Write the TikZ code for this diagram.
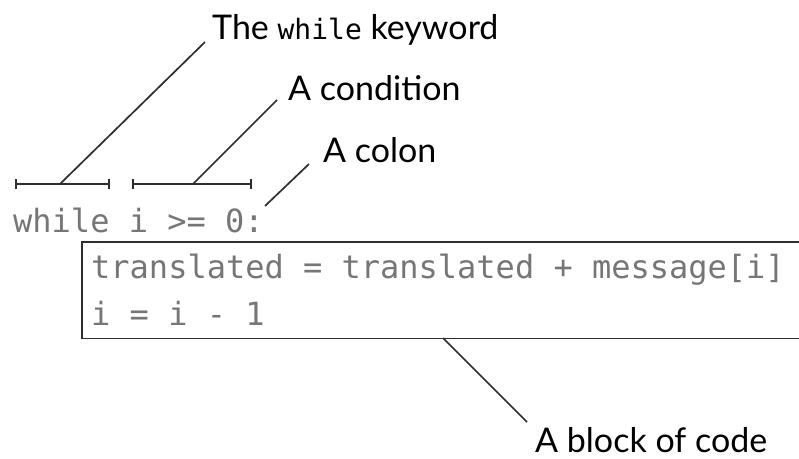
\documentclass[tikz,border=0pt]{standalone}
\usepackage{fontspec}
\setmainfont{Lato}
\setmonofont{DejaVu Sans Mono}
\begin{document}
\begin{tikzpicture}[x=1pt,y=-1pt,
  codetxt/.style={inner sep=0pt,anchor=base west,text=codegray,font=\ttfamily\fontsize{32}{32}\selectfont},
  lbl/.style={inner sep=0pt,anchor=base west,text=black,font=\fontsize{34}{34}\selectfont},
  leader/.style={draw=linegray,line width=1.7pt},
  boxline/.style={draw=linegray,line width=1.6pt},
  brack/.style={draw=linegray,line width=1.6pt,|-|}]
\definecolor{codegray}{HTML}{767676}
\definecolor{linegray}{HTML}{2E2E2E}
\useasboundingbox (0,0) rectangle (799,458);
% code
\node[codetxt] (wh) at (13,232) {while i >= 0:};
\node[minimum width=740pt,minimum height=96pt,anchor=north west,inner sep=0pt] (box) at (82,242) {};
\draw[boxline] (box.north east) -- (box.north west) -- (box.south west) -- (box.south east);
\node[codetxt] (c1) at (91,278) {translated = translated + message[i]};
\node[codetxt] (c2) at (91,325) {i = i - 1};
% brackets
\coordinate (b1l) at (15,184);
\coordinate (b1r) at (110,184);
\coordinate (b2l) at (132,184);
\coordinate (b2r) at (252,184);
\draw[brack] (b1l) -- (b1r);
\draw[brack] (b2l) -- (b2r);
% labels
\node[lbl] (kw) at (212,39) {The {\ttfamily\fontsize{28}{28}\selectfont while} keyword};
\node[lbl] (cond) at (288,100) {A condition};
\node[lbl] (colon) at (323,162) {A colon};
\node[lbl,text depth=0pt] (blk) at (535,452) {A block of code};
% leaders
\coordinate (k1) at (60,184);
\coordinate (k2) at (205,42);
\coordinate (c1a) at (193,184);
\coordinate (c1b) at (277,100);
\coordinate (o1) at (265,206);
\coordinate (o2) at (309,164);
\coordinate (p1) at (443,338);
\coordinate (p2) at (527,422);
\draw[leader] (k1) -- (k2);
\draw[leader] (c1a) -- (c1b);
\draw[leader] (o1) -- (o2);
\draw[leader] (p1) -- (p2);
\end{tikzpicture}
\end{document}
